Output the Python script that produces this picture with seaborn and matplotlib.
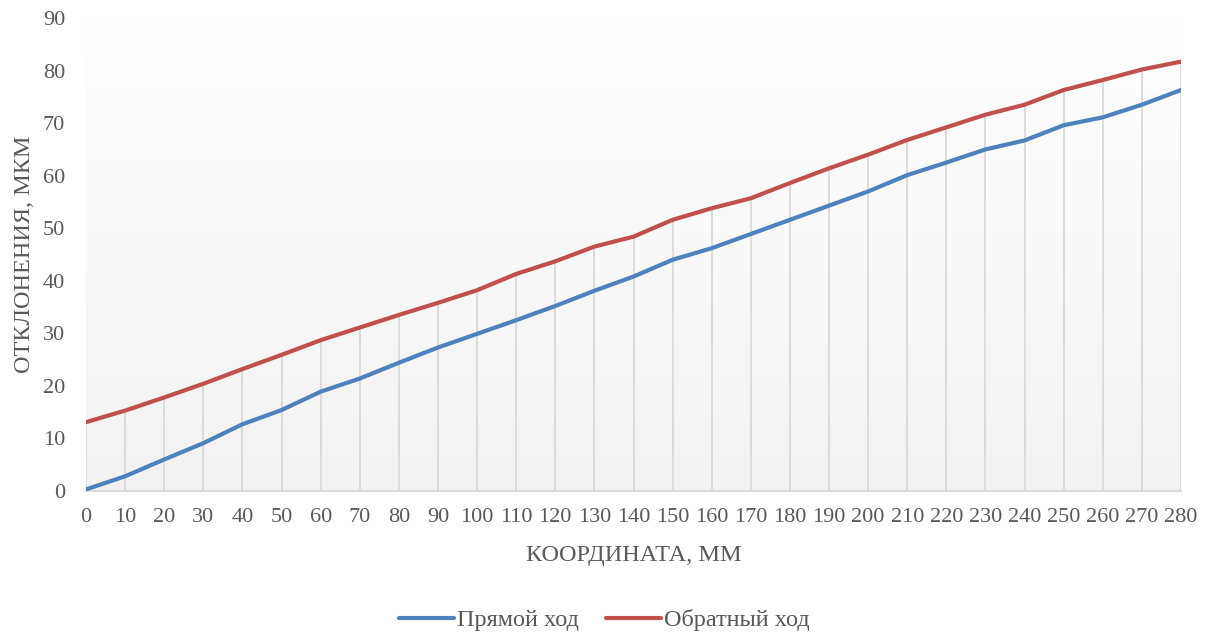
import numpy as np
import pandas as pd
import matplotlib
matplotlib.use("Agg")
import matplotlib.pyplot as plt
import seaborn as sns
from matplotlib.colors import LinearSegmentedColormap

coords = list(range(0, 290, 10))
forward = [0.3, 2.8, 6.0, 9.1, 12.7, 15.4, 18.9, 21.4, 24.4, 27.3, 29.9, 32.5, 35.2, 38.1, 40.8,
           44.0, 46.2, 48.9, 51.6, 54.3, 57.0, 60.1, 62.5, 65.0, 66.7, 69.6, 71.1, 73.5, 76.3]
backward = [13.1, 15.3, 17.8, 20.4, 23.2, 25.9, 28.7, 31.1, 33.5, 35.8, 38.2, 41.3, 43.7, 46.5, 48.4,
            51.6, 53.8, 55.7, 58.6, 61.4, 64.0, 66.8, 69.2, 71.6, 73.5, 76.3, 78.2, 80.2, 81.7]
series_names = ["Прямой ход", "Обратный ход"]
colors = ["#4F81BD", "#C0504D"]

df = pd.DataFrame({
    "x": coords * 2,
    "y": forward + backward,
    "s": [series_names[0]] * len(coords) + [series_names[1]] * len(coords),
})

sns.set_theme(style="white")
plt.rcParams["font.family"] = ["Liberation Serif", "DejaVu Serif"]

fig = plt.figure(figsize=(12.16, 6.37), dpi=100)
ax = fig.add_axes([86 / 1216, 1 - 491 / 637, (1181 - 86) / 1216, (491 - 18) / 637])

# gradient background
grad = np.linspace(0, 1, 256).reshape(-1, 1)
cmap = LinearSegmentedColormap.from_list("g", ["#F2F2F2", "#FFFFFF"])
ax.imshow(grad, extent=[0, 280, 0, 90], aspect="auto", origin="lower", cmap=cmap, zorder=0)

# drop lines from the highest series point down to the axis
tops = [max(a, b) for a, b in zip(forward, backward)]
ax.vlines(coords, 0, tops, color="#D9D9D9", lw=1.3, zorder=1)

sns.lineplot(data=df, x="x", y="y", hue="s", palette=colors, lw=3, ax=ax, zorder=3,
             legend=True)

ax.set_xlim(0, 280)
ax.set_ylim(0, 90)
ax.set_xticks(coords)
ax.set_xticklabels([str(c) for c in coords], fontsize=16, color="#595959")
ax.set_yticks(range(0, 100, 10))
ax.set_yticklabels([str(v) for v in range(0, 100, 10)], fontsize=16, color="#595959")
ax.tick_params(axis="x", pad=12, length=0)
ax.tick_params(axis="y", pad=15, length=0)
for sp in ["top", "right", "left"]:
    ax.spines[sp].set_visible(False)
ax.spines["bottom"].set_color("#D9D9D9")
ax.spines["bottom"].set_linewidth(1.3)

ax.set_xlabel("КООРДИНАТА, ММ", fontsize=17.5, color="#595959", labelpad=13)
ax.set_ylabel("ОТКЛОНЕНИЯ, МКМ", fontsize=17.5, color="#595959", labelpad=6)

handles, labels = ax.get_legend_handles_labels()
ax.get_legend().remove()
leg = fig.legend(handles, labels, loc="center", bbox_to_anchor=(0.497, 1 - 620 / 637), ncol=2,
                 frameon=False, fontsize=17.5, handlelength=2.26, columnspacing=1.15,
                 handletextpad=0.12)
for t in leg.get_texts():
    t.set_color("#595959")

fig.savefig("out.png", dpi=100)
